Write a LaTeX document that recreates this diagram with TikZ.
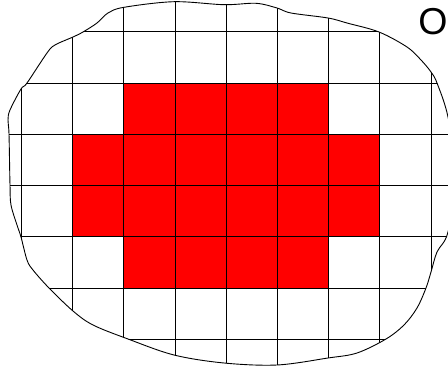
\documentclass[tikz,border=0pt]{standalone}
\usepackage{fontspec}
\setmainfont{Liberation Sans}

\begin{document}
\begin{tikzpicture}[
  x=1pt, y=-1pt,
  gridline/.style={draw=black, line width=0.8pt},
  cellfill/.style={fill=red},
  blobline/.style={draw=black, line width=0.9pt},
  lbl/.style={inner sep=0pt, font=\fontsize{37.5}{40}\selectfont},
]
\useasboundingbox (0,0) rectangle (448,369);
\clip (0,0) rectangle (448,369);
% ---- region outline ----
\path[save path=\blobpath] plot[smooth cycle, tension=0.55] coordinates {
  (174,1.7) (224,4.7) (256,3.3) (277,8) (291,13) (328,18) (347,23)
  (379,32) (407,47) (421,60) (431,72) (437,83) (448,117) (456,175)
  (448,232) (437,252) (431,272) (426,288) (417,308) (404,325) (386,339)
  (357,353) (328,358) (277,365) (224,363) (174,355) (128,339) (93,325)
  (73,311) (49,288) (33,270) (27,260) (21,237) (17,225) (11,205)
  (10,185) (9,134) (8,120) (10,110) (21,89) (27,83) (47,53) (55,45)
  (73,37) (83,32) (97,23) (108,13) (124,7.3)};
\begin{scope}
  \clip[use path=\blobpath];
  % ---- cells inside ----
  \fill[cellfill] (123.7,82.7) rectangle (328.5,134);
  \fill[cellfill] (72.5,134) rectangle (379.7,236.7);
  \fill[cellfill] (123.7,236.7) rectangle (328.5,288);
  % ---- grid ----
  \foreach \i in {-1,...,9}
    \draw[gridline] (21.3+\i*51.2,-20) -- (21.3+\i*51.2,390);
  \foreach \j in {-1,...,7}
    \draw[gridline] (-20,31.7+\j*51.25) -- (470,31.7+\j*51.25);
\end{scope}
\draw[blobline, use path=\blobpath];
% ---- label ----
\node[lbl] (omega) at (433,21.5) {O};
\end{tikzpicture}
\end{document}
